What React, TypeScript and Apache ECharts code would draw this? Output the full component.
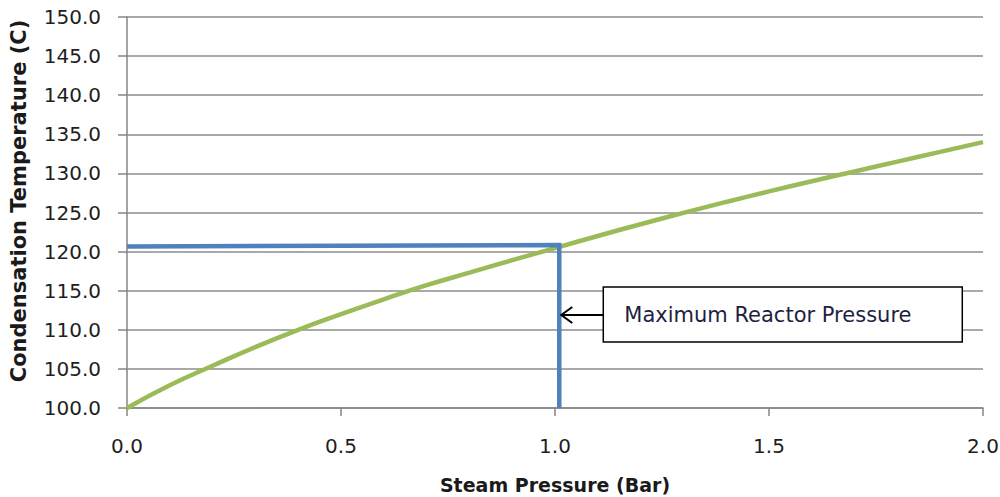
import React, { useEffect, useRef } from "react";
import * as echarts from "echarts";

const pressure = [0.0, 0.1, 0.2, 0.3, 0.4, 0.5, 0.6, 0.7, 0.8, 0.9, 1.0, 1.1, 1.2, 1.3, 1.4, 1.5, 1.6, 1.7, 1.8, 1.9, 2.0];
const temperature = [100.0, 102.9, 105.4, 107.8, 110.0, 112.0, 113.9, 115.7, 117.3, 118.9, 120.45, 122.0, 123.5, 124.95, 126.35, 127.7, 129.0, 130.25, 131.5, 132.75, 134.0];

const limitX = [0.0, 1.01, 1.01];
const limitY = [120.65, 120.85, 100.0];

const annotationText = "Maximum Reactor Pressure";
const annotationAnchor = [1.01, 111.9];

const xTitle = "Steam Pressure (Bar)";
const yTitle = "Condensation Temperature (C)";

const FONT = "DejaVu Sans";

export default function App() {
  const ref = useRef<HTMLDivElement>(null);

  useEffect(() => {
    document.body.style.margin = "0";
    if (!ref.current) return;
    const chart = echarts.init(ref.current, null, { renderer: "svg" });
    const curve = pressure.map((p, i) => [p, temperature[i]]);
    const limit = limitX.map((x, i) => [x, limitY[i]]);
    chart.setOption({
      animation: false,
      backgroundColor: "#ffffff",
      grid: { left: 127, right: 17, top: 17, bottom: 89, containLabel: false, outerBoundsMode: "none" },
      xAxis: {
        type: "value",
        min: 0,
        max: 2,
        interval: 0.5,
        name: xTitle,
        nameLocation: "middle",
        nameGap: 67,
        nameTextStyle: { fontFamily: FONT, fontWeight: "bold", fontSize: 19, color: "#1a1a1a" },
        axisLine: { show: true, lineStyle: { color: "#868686", width: 1.5 } },
        axisTick: { show: true, length: 8, inside: false, lineStyle: { color: "#868686", width: 1.5 } },
        axisLabel: {
          fontFamily: FONT,
          fontSize: 20,
          color: "#1e1e1e",
          margin: 28,
          formatter: (v: number) => v.toFixed(1),
        },
        splitLine: { show: false },
      },
      yAxis: {
        type: "value",
        min: 100,
        max: 150,
        interval: 5,
        axisLine: { show: true, lineStyle: { color: "#868686", width: 1.5 } },
        axisTick: { show: true, length: 9, inside: false, lineStyle: { color: "#868686", width: 1.5 } },
        axisLabel: {
          fontFamily: FONT,
          fontSize: 20,
          color: "#1e1e1e",
          margin: 26,
          formatter: (v: number) => v.toFixed(1),
        },
        splitLine: { show: true, lineStyle: { color: "#8c8c8c", width: 1.5 } },
      },
      series: [
        {
          type: "line",
          data: curve,
          smooth: true,
          showSymbol: false,
          symbol: "none",
          lineStyle: { color: "#9bbb59", width: 4.5 },
          z: 2,
        },
        {
          type: "line",
          data: limit,
          smooth: false,
          showSymbol: false,
          symbol: "none",
          lineStyle: { color: "#4f81bd", width: 4.5, cap: "butt", join: "miter" },
          z: 3,
        },
      ],
    });

    const tip = chart.convertToPixel({ gridIndex: 0 }, annotationAnchor) as number[];
    const tx = tip[0] + 2;
    const ty = tip[1];
    const boxX = tx + 42;
    chart.setOption({
      graphic: [
        {
          type: "text",
          x: 19,
          y: 201,
          rotation: Math.PI / 2,
          style: {
            text: yTitle,
            fontFamily: FONT,
            fontWeight: "bold",
            fontSize: 21,
            fill: "#1a1a1a",
            align: "center",
            verticalAlign: "middle",
          },
          z: 10,
        },
        {
          type: "line",
          shape: { x1: tx, y1: ty, x2: boxX, y2: ty },
          style: { stroke: "#000000", lineWidth: 2 },
          z: 10,
        },
        {
          type: "polyline",
          shape: { points: [[tx + 11, ty - 8], [tx, ty], [tx + 11, ty + 8]] },
          style: { stroke: "#000000", lineWidth: 2, fill: null },
          z: 10,
        },
        {
          type: "rect",
          shape: { x: boxX, y: ty - 28, width: 359, height: 55 },
          style: { fill: "#ffffff", stroke: "#000000", lineWidth: 1.5 },
          z: 10,
        },
        {
          type: "text",
          x: boxX + 21,
          y: ty,
          style: {
            text: annotationText,
            fontFamily: FONT,
            fontSize: 21,
            fill: "#1f1f3f",
            verticalAlign: "middle",
            align: "left",
          },
          z: 11,
        },
      ],
    });

    return () => {
      chart.dispose();
    };
  }, []);

  return (
    <div
      ref={ref}
      style={{ position: "absolute", left: 0, top: 0, width: 1000, height: 497 }}
    />
  );
}
